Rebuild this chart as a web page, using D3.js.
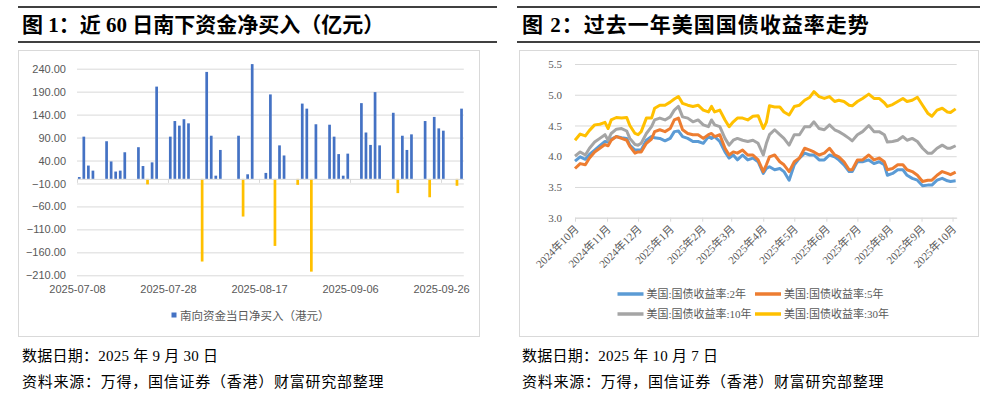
<!DOCTYPE html>
<html>
<head>
<meta charset="utf-8">
<script src="https://cdn.jsdelivr.net/npm/d3@7"></script>
<style>
  body { margin: 0; background: #fff; }
  svg { display: block; }
</style>
</head>
<body>
<svg></svg>
<script>
const width = 996;
const height = 396;

/* left chart: southbound net buying, HK$ 100m */
const barDates = [
  '2025-07-08','2025-07-09','2025-07-10','2025-07-11',
  '2025-07-14','2025-07-15','2025-07-16','2025-07-17','2025-07-18',
  '2025-07-21','2025-07-22','2025-07-23','2025-07-24','2025-07-25',
  '2025-07-28','2025-07-29','2025-07-30','2025-07-31','2025-08-01',
  '2025-08-04','2025-08-05','2025-08-06','2025-08-07','2025-08-08',
  '2025-08-12','2025-08-13','2025-08-14','2025-08-15',
  '2025-08-18','2025-08-19','2025-08-20','2025-08-21','2025-08-22',
  '2025-08-25','2025-08-26','2025-08-27','2025-08-28','2025-08-29',
  '2025-09-01','2025-09-02','2025-09-03','2025-09-04','2025-09-05',
  '2025-09-08','2025-09-09','2025-09-10','2025-09-11','2025-09-12',
  '2025-09-15','2025-09-16','2025-09-17','2025-09-18','2025-09-19',
  '2025-09-22','2025-09-23','2025-09-24','2025-09-25','2025-09-26',
  '2025-09-29','2025-09-30'
];
const barValues = [
  4, 92, 29, 18,
  82, 38, 16, 18, 58,
  69, 28, -12, 36, 201,
  92, 126, 116, 130, 121,
  -180, 233, 94, 7, 63,
  94, -82, 10, 250,
  13, 184, -146, 73, 51,
  -13, 164, 153, -202, 119,
  118, 92, 54, 7, 55,
  165, 101, 74, 189, 73,
  144, -31, 94, 63, 97,
  126, -40, 135, 110, 105,
  -15, 153
];
const barTicksY = [-210, -160, -110, -60, -10, 40, 90, 140, 190, 240];
const barTicksX = ['2025-07-08', '2025-07-28', '2025-08-17', '2025-09-06', '2025-09-26'];
const barLegend = '南向资金当日净买入（港元）';

/* right chart: US treasury yields, % */
const yieldDates = [
  '2024-10-07','2024-10-12','2024-10-17','2024-10-21','2024-10-26','2024-10-31',
  '2024-11-05','2024-11-08','2024-11-11','2024-11-16','2024-11-21','2024-11-26','2024-11-29',
  '2024-12-04','2024-12-07','2024-12-10','2024-12-15','2024-12-20','2024-12-23','2024-12-28',
  '2025-01-02','2025-01-07','2025-01-11','2025-01-15','2025-01-19','2025-01-24','2025-01-29',
  '2025-02-03','2025-02-08','2025-02-13','2025-02-16','2025-02-19','2025-02-24',
  '2025-03-01','2025-03-05','2025-03-09','2025-03-13','2025-03-18','2025-03-23','2025-03-28',
  '2025-04-02','2025-04-07','2025-04-10','2025-04-13','2025-04-18','2025-04-23','2025-04-27',
  '2025-05-02','2025-05-07','2025-05-12','2025-05-17','2025-05-22','2025-05-26','2025-05-31',
  '2025-06-05','2025-06-10','2025-06-15','2025-06-19','2025-06-24','2025-06-29',
  '2025-07-02','2025-07-07','2025-07-12','2025-07-18','2025-07-23','2025-07-28',
  '2025-08-02','2025-08-05','2025-08-10','2025-08-15','2025-08-20','2025-08-24','2025-08-29',
  '2025-09-03','2025-09-08','2025-09-13','2025-09-17','2025-09-22','2025-09-27',
  '2025-10-02','2025-10-05','2025-10-10'
];
const yield2y = [
  3.92, 3.99, 3.95, 4.03, 4.10, 4.17, 4.24, 4.23, 4.28, 4.32, 4.30, 4.29, 4.18, 4.10, 4.10, 4.10,
  4.26, 4.32, 4.30, 4.29, 4.25, 4.29, 4.40, 4.41,
  4.32, 4.29, 4.24, 4.24, 4.21, 4.32, 4.29, 4.32, 4.24, 4.07, 3.97, 4.02, 3.94, 4.02, 3.94, 3.97,
  3.91, 3.72, 3.80, 3.83, 3.78, 3.80, 3.75, 3.61, 3.86, 3.97, 4.05, 4.02, 4.02,
  3.94, 3.94, 4.02, 3.99, 3.94, 3.86, 3.75, 3.75, 3.91, 3.91, 3.94, 3.88, 3.91, 3.86, 3.69, 3.72,
  3.78, 3.78, 3.69, 3.64, 3.61, 3.52, 3.53, 3.53, 3.61, 3.64, 3.60, 3.59, 3.60
];
const yield5y = [
  3.80, 3.88, 3.86, 3.97, 4.07, 4.13, 4.19, 4.17, 4.26, 4.32, 4.29, 4.26, 4.16, 4.05, 4.07, 4.07,
  4.21, 4.28, 4.40, 4.43, 4.40, 4.45, 4.59, 4.62,
  4.43, 4.37, 4.35, 4.35, 4.29, 4.35, 4.37, 4.32, 4.35, 4.13, 4.02, 4.07, 4.05, 4.10, 4.02, 4.02,
  3.94, 3.75, 3.86, 3.99, 4.02, 3.91, 3.86, 3.75, 3.91, 3.97, 4.13, 4.10, 4.07,
  4.02, 4.05, 4.13, 4.02, 3.99, 3.91, 3.78, 3.78, 3.94, 3.94, 4.02, 3.94, 3.97, 3.91, 3.78, 3.80,
  3.86, 3.86, 3.78, 3.75, 3.69, 3.59, 3.61, 3.61, 3.69, 3.75, 3.72, 3.70, 3.74
];
const yield10y = [
  4.00, 4.07, 4.02, 4.13, 4.23, 4.29, 4.35, 4.26, 4.37, 4.44, 4.45, 4.41, 4.29, 4.19, 4.18, 4.21,
  4.37, 4.48, 4.59, 4.62, 4.59, 4.64, 4.75, 4.81,
  4.64, 4.62, 4.56, 4.59, 4.51, 4.48, 4.59, 4.51, 4.48, 4.29, 4.18, 4.26, 4.29, 4.26, 4.24, 4.26,
  4.21, 4.02, 4.21, 4.35, 4.43, 4.35, 4.29, 4.18, 4.35, 4.35, 4.48, 4.48, 4.56,
  4.45, 4.43, 4.51, 4.43, 4.40, 4.35, 4.29, 4.25, 4.35, 4.40, 4.50, 4.40, 4.40, 4.35, 4.23, 4.24,
  4.26, 4.32, 4.26, 4.29, 4.24, 4.13, 4.05, 4.05, 4.13, 4.18, 4.13, 4.13, 4.17
];
const yield30y = [
  4.26, 4.36, 4.33, 4.42, 4.51, 4.52, 4.55, 4.45, 4.59, 4.63, 4.62, 4.63, 4.50, 4.37, 4.35, 4.40,
  4.62, 4.62, 4.78, 4.83, 4.83, 4.88, 4.93, 4.97,
  4.86, 4.83, 4.81, 4.83, 4.75, 4.72, 4.81, 4.72, 4.75, 4.59, 4.48, 4.56, 4.62, 4.62, 4.59, 4.65,
  4.66, 4.45, 4.55, 4.82, 4.80, 4.80, 4.72, 4.67, 4.81, 4.83, 4.91, 4.96, 5.05,
  4.97, 4.94, 4.97, 4.89, 4.91, 4.89, 4.83, 4.82, 4.89, 4.94, 5.01, 4.94, 4.94, 4.87, 4.81, 4.84,
  4.89, 4.94, 4.89, 4.91, 4.96, 4.83, 4.70, 4.65, 4.75, 4.78, 4.72, 4.71, 4.77
];
const yieldNames = ['美国:国债收益率:2年', '美国:国债收益率:5年', '美国:国债收益率:10年', '美国:国债收益率:30年'];
const yieldColors = ['#5B9BD5', '#ED7D31', '#A5A5A5', '#FFC000'];
const yieldTicksY = [3.0, 3.5, 4.0, 4.5, 5.0, 5.5];
const yieldTicksX = [
  '2024-10-07','2024-11-07','2024-12-07','2025-01-07','2025-02-07','2025-03-07','2025-04-07',
  '2025-05-07','2025-06-07','2025-07-07','2025-08-07','2025-09-07','2025-10-07'
];

const titles = ['图 1：近 60 日南下资金净买入（亿元）', '图 2：过去一年美国国债收益率走势'];
const dataDates = ['数据日期：2025 年 9 月 30 日', '数据日期：2025 年 10 月 7 日'];
const source = '资料来源：万得，国信证券（香港）财富研究部整理';

const parseDate = d3.timeParse('%Y-%m-%d');
const serif = '"Liberation Serif", "Noto Sans CJK SC", serif';
const sans = '"Liberation Sans", "Noto Sans CJK SC", sans-serif';
const gridColor = '#D9D9D9';
const labelColor = '#595959';

const svg = d3.select('svg')
  .attr('width', width)
  .attr('height', height)
  .style('font-family', serif);

/* panel frames: title rules, chart box, footnotes */
const panels = [
  {x0: 18, x1: 497, boxX: 18.5, boxW: 461, textX: 22, titleSpacing: 0},
  {x0: 517, x1: 980, boxX: 519.5, boxW: 459, textX: 522, titleSpacing: 1}
];
panels.forEach((p, i) => {
  svg.append('line').attr('x1', p.x0).attr('x2', p.x1).attr('y1', 7).attr('y2', 7)
    .attr('stroke', '#000').attr('stroke-width', 1.5);
  svg.append('line').attr('x1', p.x0).attr('x2', p.x1).attr('y1', 42).attr('y2', 42)
    .attr('stroke', '#000').attr('stroke-width', 1.5);
  svg.append('text')
    .attr('x', p.textX).attr('y', 32)
    .style('font-size', '21px').style('font-weight', 'bold').style('fill', '#000')
    .style('letter-spacing', p.titleSpacing + 'px')
    .text(titles[i]);
  svg.append('rect')
    .attr('x', p.boxX).attr('y', 50.5).attr('width', p.boxW).attr('height', 286)
    .attr('fill', '#fff').attr('stroke', gridColor);
  svg.append('text')
    .attr('x', p.textX).attr('y', 361)
    .style('font-size', '15px').style('fill', '#000')
    .style('letter-spacing', '0.25px')
    .text(dataDates[i]);
  svg.append('text')
    .attr('x', p.textX).attr('y', 387)
    .style('font-size', '15px').style('fill', '#000')
    .style('letter-spacing', '0.75px')
    .text(source);
});

/* ---------- left: bar chart ---------- */
const bars = barDates.map((d, i) => ({date: parseDate(d), value: barValues[i]}));

const xBar = d3.scaleTime()
  .domain([parseDate('2025-07-08'), parseDate('2025-10-01')])
  .range([77, 463.8]);
const yBar = d3.scaleLinear()
  .domain([-210, 240])
  .range([275.3, 68.7]);
const slot = xBar(parseDate('2025-07-09')) - xBar(parseDate('2025-07-08'));
const barW = 2.7;

const gBar = svg.append('g').style('font-family', sans);

/* gridlines + y labels */
gBar.append('g')
  .attr('transform', `translate(${xBar.range()[0]},0)`)
  .call(d3.axisLeft(yBar)
    .tickValues(barTicksY)
    .tickFormat(d3.format('.2f'))
    .tickSize(-(xBar.range()[1] - xBar.range()[0]))
    .tickPadding(11))
  .call(g => g.select('.domain').remove())
  .call(g => g.selectAll('line').attr('stroke', gridColor))
  .call(g => g.selectAll('text').style('font-size', '11px').style('fill', labelColor));

/* bars */
gBar.selectAll('rect.bar')
  .data(bars)
  .enter()
  .append('rect')
    .classed('bar', true)
    .attr('x', d => xBar(d.date) + slot / 2 - barW / 2)
    .attr('y', d => Math.min(yBar(d.value), yBar(0)))
    .attr('width', barW)
    .attr('height', d => Math.abs(yBar(d.value) - yBar(0)))
    .attr('fill', d => d.value >= 0 ? '#4472C4' : '#FFC000');

/* axis line at zero with tick marks */
gBar.append('g')
  .attr('transform', `translate(0,${yBar(0)})`)
  .call(d3.axisBottom(xBar)
    .tickValues(barTicksX.map(parseDate))
    .tickFormat('')
    .tickSize(4)
    .tickSizeOuter(0))
  .call(g => g.selectAll('path, line').attr('stroke', gridColor));

/* date labels at the bottom */
gBar.append('g')
  .attr('transform', `translate(0,${yBar(-210)})`)
  .call(d3.axisBottom(xBar)
    .tickValues(barTicksX.map(parseDate))
    .tickFormat(d3.timeFormat('%Y-%m-%d'))
    .tickSize(0)
    .tickPadding(10))
  .call(g => g.select('.domain').remove())
  .call(g => g.selectAll('text').style('font-size', '11px').style('fill', labelColor));

/* legend */
gBar.append('rect')
  .attr('x', 171.5).attr('y', 312.5).attr('width', 5).attr('height', 5)
  .attr('fill', '#4472C4');
gBar.append('text')
  .attr('x', 180).attr('y', 319.5)
  .style('font-size', '11.5px').style('fill', labelColor)
  .text(barLegend);

/* ---------- right: yield lines ---------- */
const series = [yield2y, yield5y, yield10y, yield30y].map((vals, k) => ({
  name: yieldNames[k],
  color: yieldColors[k],
  values: yieldDates.map((d, i) => ({date: parseDate(d), value: vals[i]}))
}));

const xLine = d3.scaleTime()
  .domain([parseDate('2024-10-07'), parseDate('2025-10-11')])
  .range([575, 956.7]);
const yLine = d3.scaleLinear()
  .domain([3, 5.5])
  .range([217.7, 64]);

const gLine = svg.append('g');

gLine.append('g')
  .attr('transform', `translate(${xLine.range()[0]},0)`)
  .call(d3.axisLeft(yLine)
    .tickValues(yieldTicksY)
    .tickFormat(d3.format('.1f'))
    .tickSize(-(xLine.range()[1] - xLine.range()[0]))
    .tickPadding(13))
  .call(g => g.select('.domain').remove())
  .call(g => g.selectAll('line').attr('stroke', gridColor))
  .call(g => g.selectAll('text').style('font-family', serif).style('font-size', '11px').style('fill', labelColor));

gLine.append('g')
  .attr('transform', `translate(0,${yLine(3)})`)
  .call(d3.axisBottom(xLine)
    .tickValues(yieldTicksX.map(parseDate))
    .tickFormat(d3.timeFormat('%Y年%-m月'))
    .tickSize(4)
    .tickSizeOuter(0))
  .call(g => g.selectAll('path, line').attr('stroke', gridColor))
  .call(g => g.selectAll('text')
    .attr('x', 0).attr('y', 0).attr('dy', 0)
    .attr('transform', 'translate(4,12) rotate(-45)')
    .style('text-anchor', 'end')
    .style('font-family', serif).style('font-size', '11px').style('fill', labelColor));

const line = d3.line()
  .x(d => xLine(d.date))
  .y(d => yLine(d.value));

gLine.selectAll('path.series')
  .data(series)
  .enter()
  .append('path')
    .classed('series', true)
    .attr('d', d => line(d.values))
    .attr('fill', 'none')
    .attr('stroke', d => d.color)
    .attr('stroke-width', 3)
    .attr('stroke-linejoin', 'round');

/* legend, two rows of two */
const legend = gLine.selectAll('g.legend')
  .data(series)
  .enter()
  .append('g')
    .classed('legend', true)
    .attr('transform', (d, i) => `translate(${i % 2 ? 755 : 617.5},${i < 2 ? 294 : 314})`);
legend.append('line')
  .attr('x1', 0).attr('x2', 26)
  .attr('stroke', d => d.color).attr('stroke-width', 3.5);
legend.append('text')
  .attr('x', 29).attr('y', 4)
  .style('font-size', '11px').style('fill', labelColor)
  .text(d => d.name);
</script>
</body>
</html>
